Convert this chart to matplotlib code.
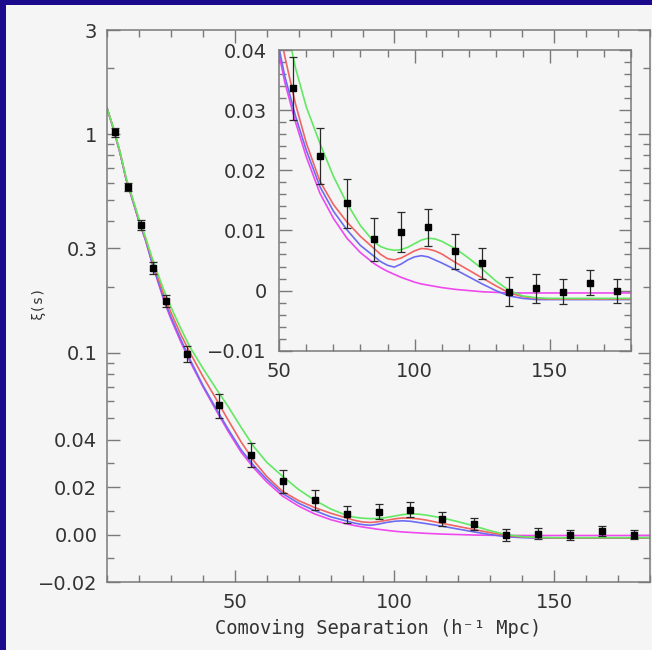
import matplotlib
matplotlib.use('Agg')
import matplotlib.pyplot as plt
import numpy as np
from matplotlib.patches import Rectangle
from matplotlib.ticker import FixedLocator, FixedFormatter, MultipleLocator

# binned correlation function
sep = [12.5, 16.5, 20.5, 24.5, 28.5, 35, 45, 55, 65, 75, 85, 95, 105, 115,
       125, 135, 145, 155, 165, 175]
xi = [1.02, 0.574, 0.385, 0.245, 0.173, 0.099, 0.0574, 0.0336, 0.0224, 0.0145,
      0.0085, 0.0097, 0.0105, 0.0065, 0.0045, -0.0002, 0.0004, -0.0002, 0.0013, 0.0000]
xi_err = [0.05, 0.025, 0.02, 0.015, 0.011, 0.008, 0.007, 0.0052, 0.0047, 0.0041,
          0.0036, 0.0033, 0.0031, 0.0029, 0.0026, 0.0024, 0.0024, 0.0021, 0.0021, 0.0020]

# model curves
r_model = [10, 12, 14, 16, 18, 20, 22, 24, 26, 28, 30, 33, 36, 40, 44, 48, 52, 56,
           60, 65, 70, 75, 80, 85, 87.5, 90, 92.5, 95, 97.5, 100, 102.5, 105, 107.5,
           110, 115, 120, 125, 130, 135, 140, 145, 150, 160, 170, 180]
xi_green = [1.32, 1.07, 0.84, 0.63, 0.51, 0.41, 0.34, 0.275, 0.228, 0.19, 0.162, 0.13,
            0.106, 0.085, 0.069, 0.0565, 0.0455, 0.037, 0.0305, 0.0245, 0.019, 0.0145,
            0.0108, 0.0081, 0.0073, 0.0069, 0.0067, 0.0068, 0.0072, 0.0078, 0.0084,
            0.0087, 0.0086, 0.0082, 0.0070, 0.0054, 0.0036, 0.0016, 0.0000, -0.0009,
            -0.0012, -0.0013, -0.0013, -0.0013, -0.0013]
xi_red = [1.32, 1.065, 0.835, 0.625, 0.505, 0.405, 0.335, 0.27, 0.22, 0.18, 0.153, 0.122,
          0.100, 0.078, 0.062, 0.049, 0.039, 0.031, 0.0245, 0.0182, 0.0143, 0.0114,
          0.0090, 0.0070, 0.0060, 0.0053, 0.0051, 0.0054, 0.0060, 0.0066, 0.0070,
          0.0069, 0.0066, 0.0061, 0.0047, 0.0034, 0.0021, 0.0008, -0.0004, -0.0010,
          -0.0013, -0.0014, -0.0014, -0.0014, -0.0014]
xi_blue = [1.32, 1.06, 0.83, 0.62, 0.50, 0.40, 0.33, 0.262, 0.212, 0.173, 0.146, 0.116,
           0.093, 0.071, 0.056, 0.0445, 0.0357, 0.029, 0.0233, 0.0173, 0.0132, 0.0101,
           0.0075, 0.0057, 0.0048, 0.0042, 0.0039, 0.0044, 0.0051, 0.0056, 0.0058,
           0.0056, 0.0051, 0.0046, 0.0035, 0.0023, 0.0011, 0.0000, -0.0009, -0.0013,
           -0.0015, -0.0015, -0.0015, -0.0015, -0.0015]
xi_nobao = [1.32, 1.06, 0.83, 0.62, 0.50, 0.40, 0.33, 0.26, 0.21, 0.17, 0.143, 0.113,
            0.091, 0.070, 0.055, 0.0435, 0.0347, 0.028, 0.0222, 0.0162, 0.0120, 0.0087,
            0.0063, 0.0045, 0.0038, 0.0032, 0.0027, 0.0022, 0.0018, 0.0014, 0.0011,
            0.0009, 0.0007, 0.0005, 0.0002, 0.0000, -0.0002, -0.0003, -0.0004, -0.0004,
            -0.0004, -0.0004, -0.0004, -0.0004, -0.0004]

models = [(xi_nobao, '#ee48ee'), (xi_blue, '#6c6cf2'), (xi_red, '#f06464'), (xi_green, '#62e862')]

main_ticks = [-0.02, 0.0, 0.02, 0.04, 0.1, 0.3, 1, 3]
main_labels = ['\u22120.02', '0.00', '0.02', '0.04', '0.1', '0.3', '1', '3']
main_minor = [-0.01, 0.01, 0.03, 0.05, 0.06, 0.07, 0.08, 0.09, 0.2,
              0.4, 0.5, 0.6, 0.7, 0.8, 0.9, 2]
inset_ticks = [-0.01, 0.0, 0.01, 0.02, 0.03, 0.04]
inset_labels = ['\u22120.01', '0', '0.01', '0.02', '0.03', '0.04']

C = 0.04  # linear below this, log above

def fwd(y):
    y = np.asarray(y, dtype=float)
    return np.where(y <= C, y / C, 1 + np.log(np.maximum(y, C) / C))

def inv(f):
    f = np.asarray(f, dtype=float)
    return np.where(f <= 1, f * C, C * np.exp(np.clip(f, 1, 50) - 1))

bg = '#f5f5f5'
spine_col = '#7a7a7a'
txt_col = '#333333'

fig = plt.figure(figsize=(6.52, 6.50), dpi=100)
fig.patch.set_facecolor('#1c0a8c')
fig.add_artist(Rectangle((6 / 652, 0), 1, 645 / 650, transform=fig.transFigure,
                         facecolor=bg, edgecolor='none', zorder=-10))

def style(ax):
    ax.set_facecolor(bg)
    for s in ax.spines.values():
        s.set_color(spine_col)
        s.set_linewidth(1.1)
    ax.tick_params(which='both', direction='in', top=True, right=True,
                   color=spine_col, width=1.0, labelcolor=txt_col, labelsize=14)
    ax.tick_params(which='major', length=9, pad=7)
    ax.tick_params(which='minor', length=5)

# main panel
ax = fig.add_axes([107 / 652, 1 - 582 / 650, 543 / 652, 552 / 650])
style(ax)
ax.set_yscale('function', functions=(fwd, inv))
for yv, col in models:
    ax.plot(r_model, yv, color=col, lw=1.2, zorder=2)
ax.errorbar(sep, xi, yerr=xi_err, fmt='s', color='black', ms=5, ecolor='#2a2a2a',
            elinewidth=0.9, capsize=3, capthick=0.9, zorder=3)
ax.set_xlim(10, 180)
ax.set_ylim(-0.02, 3)
ax.yaxis.set_major_locator(FixedLocator(main_ticks))
ax.yaxis.set_major_formatter(FixedFormatter(main_labels))
ax.yaxis.set_minor_locator(FixedLocator(main_minor))
ax.xaxis.set_major_locator(FixedLocator([50, 100, 150]))
ax.xaxis.set_minor_locator(MultipleLocator(10))
ax.tick_params(axis='x', which='major', pad=8)

# inset
axi = fig.add_axes([279.3 / 652, 1 - 350.7 / 650, 351.7 / 652, 300.7 / 650], zorder=5)
style(axi)
for yv, col in models:
    axi.plot(r_model, yv, color=col, lw=1.2, zorder=2)
axi.errorbar(sep, xi, yerr=xi_err, fmt='s', color='black', ms=5, ecolor='#2a2a2a',
             elinewidth=0.9, capsize=3, capthick=0.9, zorder=3)
axi.set_xlim(50, 180)
axi.set_ylim(-0.01, 0.04)
axi.yaxis.set_major_locator(FixedLocator(inset_ticks))
axi.yaxis.set_major_formatter(FixedFormatter(inset_labels))
axi.yaxis.set_minor_locator(MultipleLocator(0.002))
axi.xaxis.set_major_locator(FixedLocator([50, 100, 150]))
axi.xaxis.set_minor_locator(MultipleLocator(10))
axi.tick_params(axis='y', which='major', pad=9)
axi.tick_params(axis='x', which='major', pad=8)

fig.text(378.5 / 652, 1 - 628 / 650, 'Comoving Separation (h\u207b\u00b9 Mpc)',
         ha='center', va='center', fontsize=13.5, color=txt_col,
         family=['DejaVu Sans Mono', 'DejaVu Sans'])
fig.text(38 / 652, 1 - 302 / 650, '\u03be(s)', rotation=90, ha='center', va='center',
         fontsize=10, color=txt_col, family=['DejaVu Sans Mono', 'DejaVu Sans'])

fig.savefig('out.png', dpi=100, facecolor=fig.get_facecolor())
